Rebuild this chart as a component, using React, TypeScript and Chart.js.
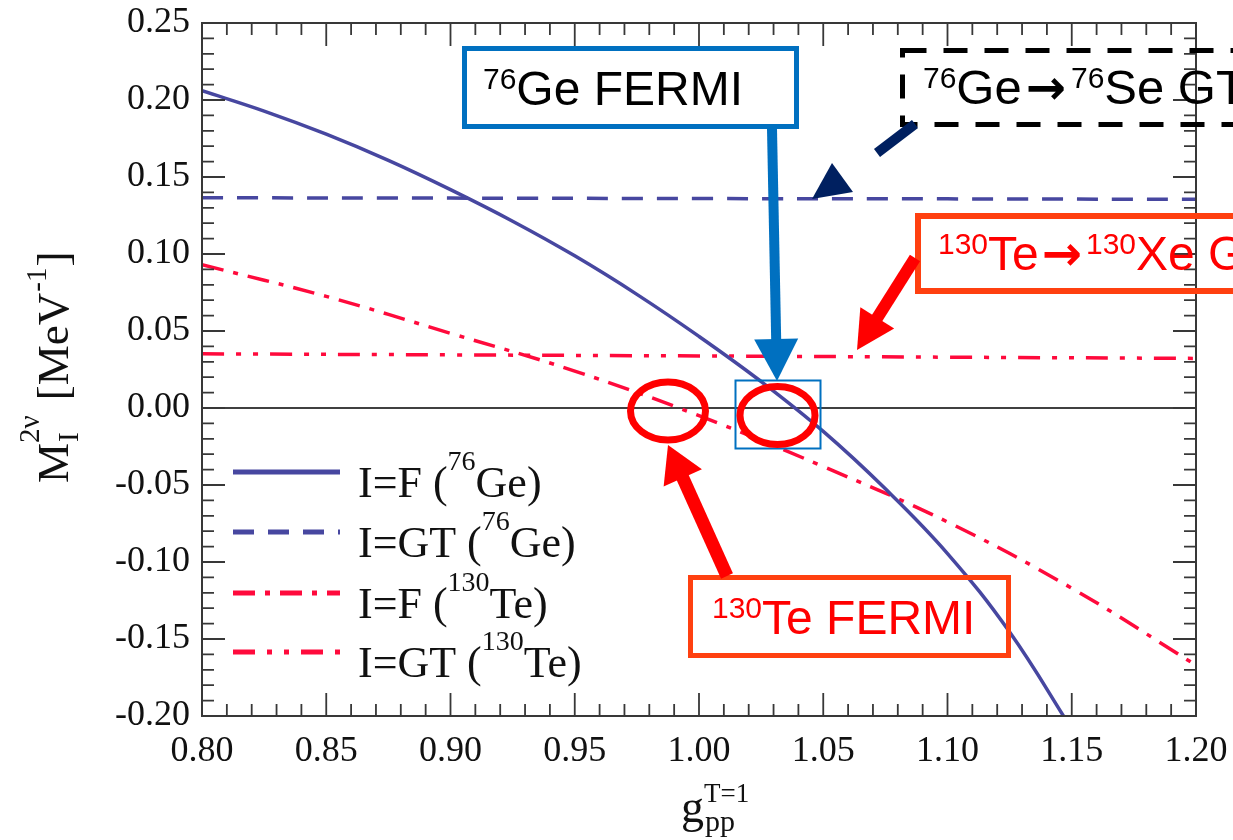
import React, { useEffect, useRef } from 'react';
import { Chart, registerables } from 'chart.js';
Chart.register(...registerables);

// ---- tick labels ----
const xTickValues = [0.8, 0.85, 0.9, 0.95, 1.0, 1.05, 1.1, 1.15, 1.2];
const xTickLabels = ['0.80', '0.85', '0.90', '0.95', '1.00', '1.05', '1.10', '1.15', '1.20'];
const yTickValues = [-0.2, -0.15, -0.1, -0.05, 0.0, 0.05, 0.1, 0.15, 0.2, 0.25];
const yTickLabels = ['-0.20', '-0.15', '-0.10', '-0.05', '0.00', '0.05', '0.10', '0.15', '0.20', '0.25'];

// ---- series: I=F (76Ge) ----
const gppFGe = [0.8, 0.825, 0.85, 0.875, 0.9, 0.925, 0.95, 0.975, 1.0, 1.025, 1.05, 1.075, 1.1, 1.125, 1.15];
const mFGe = [0.206, 0.1928, 0.1778, 0.1608, 0.1418, 0.1213, 0.0988, 0.0738, 0.0465, 0.0172, -0.0152, -0.0525, -0.0945, -0.1455, -0.2085];
// ---- series: I=GT (76Ge) ----
const gppGTGe = [0.8, 0.9, 1.0, 1.1, 1.2];
const mGTGe = [0.1365, 0.1363, 0.136, 0.1358, 0.1355];
// ---- series: I=F (130Te) ----
const gppFTe = [0.8, 0.85, 0.9, 0.95, 1.0, 1.05, 1.1, 1.15, 1.2];
const mFTe = [0.093, 0.0725, 0.0485, 0.024, -0.005, -0.038, -0.074, -0.117, -0.167];
// ---- series: I=GT (130Te) ----
const gppGTTe = [0.8, 0.9, 1.0, 1.1, 1.2];
const mGTTe = [0.0352, 0.0345, 0.0338, 0.033, 0.0322];

// ---- legend texts ----
const legendPrefix = ['I=F (', 'I=GT (', 'I=F (', 'I=GT ('];
const legendMass = ['76', '76', '130', '130'];
const legendElem = ['Ge)', 'Ge)', 'Te)', 'Te)'];

const BLUE = '#4747A0';
const RED = '#FF0A3C';
const dashes = [[], [21, 14], [22, 10, 5, 10], [22, 12, 5, 12, 5, 12]];
const colors = [BLUE, BLUE, RED, RED];
const SERIF = '"Liberation Serif", "Times New Roman", serif';
const SANS = '"Liberation Sans", Arial, sans-serif';
const ARROWFONT = 'bold 48px "DejaVu Sans", sans-serif';

const toPts = (xs: number[], ys: number[]) => xs.map((x, i) => ({ x, y: ys[i] }));

function supText(ctx: CanvasRenderingContext2D, x: number, y: number, sup: string, main: string, size: number, supSize: number, raise: number, family: string) {
  ctx.font = `${supSize}px ${family}`;
  ctx.fillText(sup, x, y - raise);
  const w = ctx.measureText(sup).width;
  ctx.font = `${size}px ${family}`;
  ctx.fillText(main, x + w, y);
  return x + w + ctx.measureText(main).width;
}

function plainText(ctx: CanvasRenderingContext2D, x: number, y: number, t: string, font: string) {
  ctx.font = font;
  ctx.fillText(t, x, y);
  return x + ctx.measureText(t).width;
}

function arrow(ctx: CanvasRenderingContext2D, x1: number, y1: number, x2: number, y2: number, shaftW: number, headLen: number, headW: number, color: string) {
  const dx = x2 - x1, dy = y2 - y1;
  const L = Math.hypot(dx, dy);
  const ux = dx / L, uy = dy / L;
  const nx = -uy, ny = ux;
  const bx = x2 - ux * headLen, by = y2 - uy * headLen;
  ctx.strokeStyle = color;
  ctx.fillStyle = color;
  ctx.lineWidth = shaftW;
  ctx.lineCap = 'butt';
  ctx.setLineDash([]);
  ctx.beginPath();
  ctx.moveTo(x1, y1);
  ctx.lineTo(bx + ux * 2, by + uy * 2);
  ctx.stroke();
  ctx.beginPath();
  ctx.moveTo(x2, y2);
  ctx.lineTo(bx + nx * headW / 2, by + ny * headW / 2);
  ctx.lineTo(bx - nx * headW / 2, by - ny * headW / 2);
  ctx.closePath();
  ctx.fill();
}

const decor = {
  id: 'decor',
  beforeDatasetsDraw(chart: any) {
    const { ctx, chartArea: a, scales } = chart;
    const y0 = scales.y.getPixelForValue(0);
    ctx.save();
    ctx.strokeStyle = '#000';
    ctx.lineWidth = 1.5;
    ctx.beginPath();
    ctx.moveTo(a.left, y0);
    ctx.lineTo(a.right, y0);
    ctx.stroke();
    ctx.restore();
  },
  afterDatasetsDraw(chart: any) {
    const { ctx, chartArea: a, scales } = chart;
    const xs = scales.x, ys = scales.y;
    ctx.save();
    // frame
    ctx.strokeStyle = '#383838';
    ctx.lineWidth = 2;
    ctx.setLineDash([]);
    ctx.strokeRect(a.left, a.top, a.right - a.left, a.bottom - a.top);
    // inward ticks on all four sides
    ctx.lineWidth = 1.8;
    for (let i = 0; i <= 40; i++) {
      const px = xs.getPixelForValue(0.8 + i * 0.01);
      const len = i % 5 === 0 ? 23 : 12;
      ctx.beginPath();
      ctx.moveTo(px, a.bottom); ctx.lineTo(px, a.bottom - len);
      ctx.moveTo(px, a.top); ctx.lineTo(px, a.top + len);
      ctx.stroke();
    }
    for (let i = 0; i <= 45; i++) {
      const py = ys.getPixelForValue(-0.2 + i * 0.01);
      const len = i % 5 === 0 ? 23 : 12;
      ctx.beginPath();
      ctx.moveTo(a.left, py); ctx.lineTo(a.left + len, py);
      ctx.moveTo(a.right, py); ctx.lineTo(a.right - len, py);
      ctx.stroke();
    }
    // legend
    const rows = [472, 532, 593, 652];
    rows.forEach((ry, i) => {
      ctx.strokeStyle = colors[i];
      ctx.lineWidth = 5;
      ctx.setLineDash(dashes[i]);
      ctx.beginPath();
      ctx.moveTo(233, ry);
      ctx.lineTo(340, ry);
      ctx.stroke();
      ctx.setLineDash([]);
      ctx.fillStyle = '#111';
      ctx.textBaseline = 'alphabetic';
      ctx.textAlign = 'left';
      ctx.font = `44px ${SERIF}`;
      ctx.fillText(legendPrefix[i], 358, ry + 25);
      const w = ctx.measureText(legendPrefix[i]).width;
      supText(ctx, 358 + w, ry + 25, legendMass[i], legendElem[i], 44, 28, 27, SERIF);
    });
    // y title (rotated)
    ctx.save();
    ctx.fillStyle = '#111';
    ctx.translate(68, 483);
    ctx.rotate(-Math.PI / 2);
    ctx.textAlign = 'left';
    ctx.textBaseline = 'alphabetic';
    ctx.font = `45px ${SERIF}`;
    ctx.fillText('M', 0, 0);
    let cx = ctx.measureText('M').width;
    ctx.font = `29px ${SERIF}`;
    ctx.fillText('I', cx + 1, 10);
    ctx.fillText('2ν', cx, -29);
    cx += ctx.measureText('2ν').width + 4;
    ctx.font = `45px ${SERIF}`;
    ctx.fillText(' [MeV', cx, 0);
    cx += ctx.measureText(' [MeV').width;
    ctx.font = `29px ${SERIF}`;
    ctx.fillText('-1', cx + 1, -22);
    cx += ctx.measureText('-1').width + 2;
    ctx.font = `45px ${SERIF}`;
    ctx.fillText(']', cx, 0);
    ctx.restore();
    // x title
    ctx.fillStyle = '#111';
    ctx.font = `46px ${SERIF}`;
    ctx.fillText('g', 681, 822);
    const gw = ctx.measureText('g').width;
    ctx.font = `27px ${SERIF}`;
    ctx.fillText('T=1', 681 + gw, 802);
    ctx.font = `30px ${SERIF}`;
    ctx.fillText('pp', 681 + gw + 1, 831);
    ctx.restore();
  },
  afterDraw(chart: any) {
    const ctx: CanvasRenderingContext2D = chart.ctx;
    ctx.save();
    ctx.textBaseline = 'alphabetic';
    ctx.textAlign = 'left';
    // 76Ge FERMI box
    ctx.fillStyle = '#fff';
    ctx.fillRect(464.5, 48.5, 332, 78);
    ctx.strokeStyle = '#0070C0';
    ctx.lineWidth = 5;
    ctx.strokeRect(464.5, 48.5, 332, 78);
    ctx.fillStyle = '#000';
    supText(ctx, 483, 105, '76', 'Ge FERMI', 48, 30, 16, SANS);
    arrow(ctx, 772, 129, 777, 381, 10, 42, 44, '#0070C0');
    // small blue rectangle
    ctx.strokeStyle = '#0070C0';
    ctx.lineWidth = 2;
    ctx.strokeRect(735.5, 380.5, 85, 68);
    // red ellipses
    ctx.strokeStyle = '#FF0000';
    ctx.lineWidth = 7;
    ctx.beginPath();
    ctx.ellipse(668, 411, 37.5, 29, 0, 0, Math.PI * 2);
    ctx.stroke();
    ctx.beginPath();
    ctx.ellipse(777.5, 415.5, 37.5, 29, 0, 0, Math.PI * 2);
    ctx.stroke();
    // dashed 76Ge->76Se GT box
    ctx.strokeStyle = '#000';
    ctx.lineWidth = 5;
    ctx.setLineDash([24, 17]);
    ctx.strokeRect(902.5, 50.5, 360, 74);
    ctx.setLineDash([]);
    ctx.fillStyle = '#000';
    let tx = supText(ctx, 923, 104, '76', 'Ge', 49, 30, 16, SANS);
    tx = plainText(ctx, tx + 4, 104, '→', ARROWFONT);
    supText(ctx, tx + 5, 104, '76', 'Se GT', 49, 30, 16, SANS);
    // navy arrow (broken)
    ctx.strokeStyle = '#002060';
    ctx.fillStyle = '#002060';
    ctx.lineWidth = 10;
    ctx.beginPath();
    ctx.moveTo(877, 153);
    ctx.lineTo(915, 124);
    ctx.stroke();
    ctx.beginPath();
    ctx.moveTo(812, 199);
    ctx.lineTo(832, 163);
    ctx.lineTo(853, 192);
    ctx.closePath();
    ctx.fill();
    // 130Te->130Xe box
    ctx.strokeStyle = '#FF4010';
    ctx.lineWidth = 6;
    ctx.strokeRect(918, 216, 400, 75);
    ctx.fillStyle = '#FF0000';
    tx = supText(ctx, 938, 270, '130', 'Te', 48, 30, 16, SANS);
    tx = plainText(ctx, tx + 3, 270, '→', ARROWFONT);
    supText(ctx, tx + 4, 270, '130', 'Xe G', 48, 30, 16, SANS);
    arrow(ctx, 915, 258, 857, 350, 12, 38, 40, '#FF0000');
    // 130Te FERMI box
    ctx.strokeStyle = '#FF4010';
    ctx.lineWidth = 5;
    ctx.strokeRect(690.5, 577.5, 318, 78);
    ctx.fillStyle = '#FF0000';
    supText(ctx, 712, 634, '130', 'Te FERMI', 48, 30, 16, SANS);
    arrow(ctx, 727, 576, 668, 445, 13, 36, 42, '#FF0000');
    ctx.restore();
  },
};

export default function App() {
  const ref = useRef<HTMLCanvasElement>(null);
  useEffect(() => {
    if (!ref.current) return;
    const series = [toPts(gppFGe, mFGe), toPts(gppGTGe, mGTGe), toPts(gppFTe, mFTe), toPts(gppGTTe, mGTTe)];
    const labels = ['I=F (76Ge)', 'I=GT (76Ge)', 'I=F (130Te)', 'I=GT (130Te)'];
    const chart = new Chart(ref.current, {
      type: 'line',
      data: {
        datasets: series.map((d, i) => ({
          label: labels[i],
          data: d,
          borderColor: colors[i],
          borderWidth: 3.5,
          borderDash: dashes[i],
          pointRadius: 0,
          fill: false,
          tension: 0.4,
        })),
      },
      options: {
        animation: false,
        responsive: false,
        devicePixelRatio: 1,
        layout: { padding: { top: 23, right: 37, left: 0, bottom: 0 } },
        plugins: { legend: { display: false }, tooltip: { enabled: false } },
        scales: {
          x: {
            type: 'linear',
            min: 0.8,
            max: 1.2,
            grid: { display: false, drawTicks: false },
            border: { display: false },
            afterBuildTicks: (s: any) => { s.ticks = xTickValues.map((v) => ({ value: v })); },
            afterFit: (s: any) => { s.height = 124; s.paddingLeft = 0; s.paddingRight = 0; },
            ticks: {
              autoSkip: false,
              maxRotation: 0,
              padding: 14,
              color: '#111',
              font: { family: SERIF, size: 36 },
              callback: (_v: any, i: number) => xTickLabels[i],
            },
          },
          y: {
            type: 'linear',
            min: -0.2,
            max: 0.25,
            grid: { display: false, drawTicks: false },
            border: { display: false },
            afterBuildTicks: (s: any) => { s.ticks = yTickValues.map((v) => ({ value: v })); },
            afterFit: (s: any) => { s.width = 202; s.paddingTop = 0; s.paddingBottom = 0; },
            ticks: {
              autoSkip: false,
              padding: 12,
              color: '#111',
              font: { family: SERIF, size: 36 },
              callback: (_v: any, i: number) => yTickLabels[i],
            },
          },
        },
      },
      plugins: [decor],
    });
    return () => chart.destroy();
  }, []);
  return (
    <div style={{ position: 'absolute', left: 0, top: 0, width: 1233, height: 840, background: '#fff' }}>
      <canvas ref={ref} width={1233} height={840} style={{ width: 1233, height: 840, display: 'block' }} />
    </div>
  );
}
